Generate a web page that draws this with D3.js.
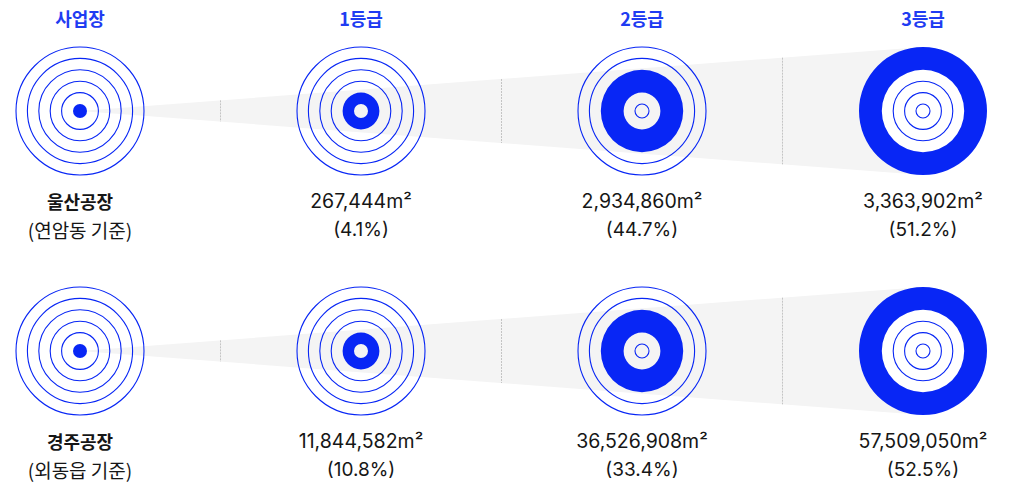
<!DOCTYPE html>
<html>
<head>
<meta charset="utf-8">
<script src="https://cdn.jsdelivr.net/npm/d3@7"></script>
<style>
  html, body { margin: 0; padding: 0; background: #fff; }
  svg { display: block; font-family: Inter, "Noto Sans CJK KR", sans-serif; }
</style>
</head>
<body>
<svg id="chart" width="1013" height="483"></svg>
<script>
// Columns: site, then soil grade 1–3
const columns = ["사업장", "1등급", "2등급", "3등급"];
const sites = ["울산공장", "경주공장"];
const siteNotes = ["(연암동 기준)", "(외동읍 기준)"];
// Area per grade (m²) and share of total (%)
const areas = [
  [267444, 2934860, 3363902],
  [11844582, 36526908, 57509050]
];
const shares = [
  [4.1, 44.7, 51.2],
  [10.8, 33.4, 52.5]
];
// Which band range is filled in each column's target (band index 0..5)
const filledFrom = [-1, 0, 1, 3];
const filledTo   = [0, 1, 3, 5];

const blue = "#0826f5";
const headBlue = "#1f3cf2";
const ink = "#161616";

const svg = d3.select("#chart");

const x = d3.scalePoint().domain(columns).range([80, 923]).padding(0);
const y = d3.scalePoint().domain(sites).range([111, 351]).padding(0);
const r = d3.scaleLinear().domain([0, 5]).range([7, 64]);
const bands = d3.range(6);

const fmt = d3.format(",");
const kr = "'Noto Sans CJK KR', sans-serif";

// Column headers
svg.append("g").selectAll("text").data(columns).join("text")
  .attr("x", d => x(d)).attr("y", 18)
  .attr("text-anchor", "middle").attr("dominant-baseline", "central")
  .attr("fill", headBlue).attr("font-size", 18).attr("font-weight", 700)
  .attr("font-family", kr)
  .text(d => d);

const arcGen = d3.arc();

sites.forEach((site, si) => {
  const cy = y(site);
  const g = svg.append("g");

  // Funnel from the site to the last grade
  const x0 = x(columns[0]), x3 = x(columns[columns.length - 1]);
  const rMax = r(5);
  g.append("path")
    .attr("d", d3.line()([[x0, cy], [x3, cy - rMax], [x3, cy + rMax]]) + "Z")
    .attr("fill", "#f4f4f4");

  // Dashed dividers between columns, spanning the funnel height
  const half = xx => (xx - x0) / (x3 - x0) * rMax;
  const mids = d3.pairs(columns).map(([a, b]) => (x(a) + x(b)) / 2);
  g.selectAll("line.div").data(mids).join("line")
    .attr("class", "div")
    .attr("x1", d => d).attr("x2", d => d)
    .attr("y1", d => cy - half(d)).attr("y2", d => cy + half(d))
    .attr("stroke", "#c4c4c4").attr("stroke-width", 1)
    .attr("stroke-dasharray", "2 1");

  columns.forEach((col, ci) => {
    const cx = x(col);
    const cg = g.append("g").attr("transform", `translate(${cx},${cy})`);
    const from = filledFrom[ci], to = filledTo[ci];

    if (ci === columns.length - 1) {
      cg.append("circle").attr("r", r(from)).attr("fill", "#fff");
    }
    // Filled band (disk or ring)
    cg.append("path")
      .attr("d", arcGen({
        innerRadius: from < 0 ? 0 : r(from),
        outerRadius: r(to),
        startAngle: 0, endAngle: 2 * Math.PI
      }))
      .attr("fill", blue);

    // Outline rings outside the filled band
    cg.selectAll("circle.ring")
      .data(bands.filter(b => b < from || b > to))
      .join("circle")
      .attr("class", "ring")
      .attr("r", d => r(d))
      .attr("fill", "none")
      .attr("stroke", blue)
      .attr("stroke-width", 1.1);
  });

  // Site name and area labels
  const lab = svg.append("g");
  lab.append("text")
    .attr("x", x(columns[0])).attr("y", cy + 90)
    .attr("text-anchor", "middle").attr("dominant-baseline", "central")
    .attr("fill", ink).attr("font-size", 18).attr("font-weight", 700)
    .attr("font-family", kr)
    .text(site);
  lab.append("text")
    .attr("x", x(columns[0])).attr("y", cy + 118)
    .attr("text-anchor", "middle").attr("dominant-baseline", "central")
    .attr("fill", ink).attr("font-size", 19)
    .attr("font-family", kr)
    .text(siteNotes[si]);

  columns.slice(1).forEach((col, k) => {
    lab.append("text")
      .attr("x", x(col)).attr("y", cy + 90)
      .attr("text-anchor", "middle").attr("dominant-baseline", "central")
      .attr("fill", ink).attr("font-size", 19.5)
      .text(fmt(areas[si][k]) + "m²");
    lab.append("text")
      .attr("x", x(col)).attr("y", cy + 118)
      .attr("text-anchor", "middle").attr("dominant-baseline", "central")
      .attr("fill", ink).attr("font-size", 19)
      .text("(" + shares[si][k] + "%)");
  });
});
</script>
</body>
</html>
